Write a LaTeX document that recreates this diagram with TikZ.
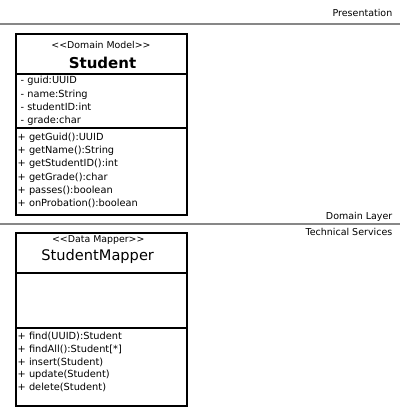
\documentclass[tikz,border=0pt]{standalone}
\usepackage{fontspec}
\setmainfont{DejaVu Sans}
\newcommand\umlstereo[1]{<\kern0pt<#1>\kern0pt>}
\tikzset{
  layer/.style={draw=black!47, line width=2pt},
  compart/.style={draw, line width=2pt, anchor=north west, inner sep=0pt, outer sep=0pt, minimum width=171pt},
  member/.style={anchor=base west, inner sep=0pt, font=\fontsize{9.8}{12}\selectfont},
  stereo/.style={anchor=base, inner sep=0pt, font=\fontsize{9.4}{11}\selectfont},
  classname/.style={anchor=base, inner sep=0pt, font=\fontsize{14.6}{17}\selectfont},
  layername/.style={anchor=base east, inner sep=0pt, font=\fontsize{9.5}{11}\selectfont},
}

\begin{document}
\begin{tikzpicture}[x=1pt,y=-1pt]
                \useasboundingbox (0,0) rectangle (400,417);
                \draw[layer] (0,24.5) -- (400,24.5);
                \draw[layer] (0,224) -- (400,224);
                \node[layername] (pres) at (392.5,16.5) {Presentation};
                \node[layername] (domain) at (392.5,219.5) {Domain Layer};
                \node[layername] (tech) at (392.5,235.5) {Technical Services};
                \node[compart, minimum height=40pt] (stuhead) at (16,34.5) {};
                \node[compart, minimum height=53.5pt] (stuattr) at (16,74.5) {};
                \node[compart, minimum height=86.5pt] (stuops) at (16,128) {};
                \node[stereo] (stustereo) at (101,49) {\umlstereo{Domain Model}};
                \node[classname, font=\fontsize{15}{17}\selectfont\bfseries] (stuname) at (102.5,68.5) {Student};
                \node[member] (guid) at (20.5,84) {- guid:UUID};
                \node[member] (name) at (20.5,97.3) {- name:String};
                \node[member] (studentid) at (20.5,110.6) {- studentID:int};
                \node[member] (grade) at (20.5,124) {- grade:char};
                \node[member] (getguid) at (17.5,140) {+ getGuid():UUID};
                \node[member] (getname) at (17.5,153.3) {+ getName():String};
                \node[member] (getstudentid) at (17.5,166.6) {+ getStudentID():int};
                \node[member] (getgrade) at (17.5,180) {+ getGrade():char};
                \node[member] (passes) at (17.5,193.3) {+ passes():boolean};
                \node[member] (onprobation) at (17.5,206.6) {+ onProbation():boolean};
                \node[compart, minimum height=40pt] (maphead) at (16,232.7) {};
                \node[compart, minimum height=55pt] (mapattr) at (16,272.7) {};
                \node[compart, minimum height=78pt] (mapops) at (16,327.7) {};
                \node[stereo] (mapstereo) at (98.3,242.3) {\umlstereo{Data Mapper}};
                \node[classname] (mapname) at (97.7,260.7) {StudentMapper};
                \node[member] (find) at (17.5,339.2) {+ find(UUID):Student};
                \node[member] (findall) at (17.5,352.1) {+ findAll():Student[*]};
                \node[member] (insert) at (17.5,365) {+ insert(Student)};
                \node[member] (update) at (17.5,377.9) {+ update(Student)};
                \node[member] (delete) at (17.5,390.8) {+ delete(Student)};
            \end{tikzpicture}
\end{document}
